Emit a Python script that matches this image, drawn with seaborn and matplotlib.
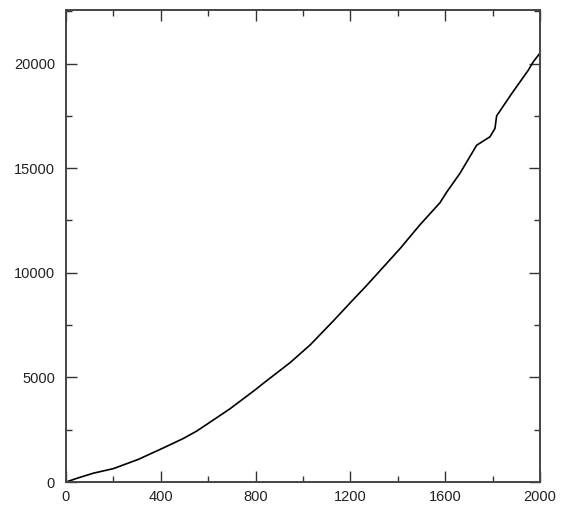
import matplotlib
matplotlib.use("Agg")
import matplotlib.pyplot as plt
from matplotlib.ticker import MultipleLocator
import seaborn as sns
import pandas as pd

# Cumulative total against step number
steps = [0, 50, 115, 200, 305, 411, 495, 551, 600, 692, 800, 833, 945, 1030,
         1128, 1198, 1269, 1325, 1409, 1494, 1578, 1606, 1662, 1733, 1789,
         1810, 1817, 1881, 1951, 1972, 2000]
totals = [0, 190, 420, 640, 1080, 1630, 2080, 2430, 2800, 3500, 4420, 4720,
          5700, 6550, 7700, 8550, 9400, 10100, 11150, 12300, 13350, 13850,
          14750, 16100, 16500, 16900, 17500, 18570, 19690, 20090, 20500]

x_ticks = [0, 400, 800, 1200, 1600, 2000]
y_ticks = [0, 5000, 10000, 15000, 20000]

df = pd.DataFrame({"step": steps, "total": totals})

sns.set_style("ticks")
plt.rcParams["font.family"] = ["Liberation Sans", "DejaVu Sans"]

fig = plt.figure(figsize=(5.61, 5.14), dpi=100)
ax = fig.add_axes([66 / 561, 1 - 482 / 514, 474 / 561, 472 / 514])

sns.lineplot(data=df, x="step", y="total", color="black", linewidth=1.2, ax=ax)

ax.set_xlim(0, 2000)
ax.set_ylim(0, 22560)
ax.set_xticks(x_ticks)
ax.set_yticks(y_ticks)
ax.set_xticklabels([str(v) for v in x_ticks])
ax.set_yticklabels([str(v) for v in y_ticks])
ax.xaxis.set_minor_locator(MultipleLocator(200))
ax.yaxis.set_minor_locator(MultipleLocator(2500))
ax.set_xlabel("")
ax.set_ylabel("")

for side in ["left", "right", "top", "bottom"]:
    ax.spines[side].set_visible(True)
    ax.spines[side].set_color("#444444")
    ax.spines[side].set_linewidth(1.4)

ax.tick_params(which="both", direction="in", top=True, right=True,
               color="#333333", width=1.0)
ax.tick_params(which="major", length=8, labelsize=10.5, labelcolor="#222222")
ax.tick_params(which="minor", length=4)
ax.tick_params(axis="y", which="major", pad=8)
ax.tick_params(axis="x", which="major", pad=6)

fig.savefig("out.png", dpi=100)
